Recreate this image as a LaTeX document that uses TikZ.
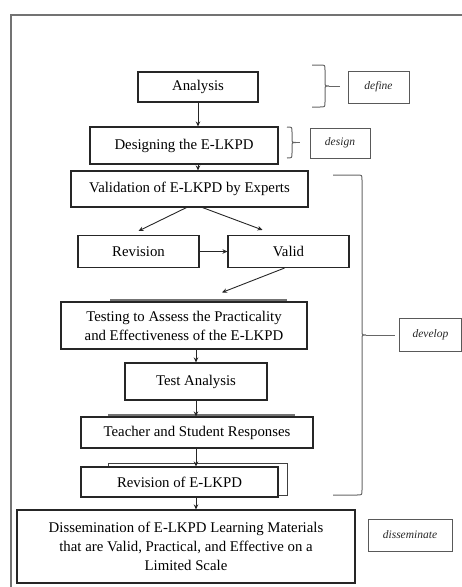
\documentclass[tikz,border=0pt]{standalone}
\usepackage{fontspec}
\setmainfont{Liberation Serif}
\usetikzlibrary{arrows.meta}
\newcommand\mybrace[6]{%
  \draw[brc] (#1,#3) -- ({#2-5},#3) .. controls (#2,#3) .. (#2,{#3+5}) -- (#2,{#4-4}) .. controls (#2,#4) .. ({#2+4},#4) .. controls (#2,#4) .. (#2,{#4+4}) -- (#2,{#5-5}) .. controls (#2,#5) .. ({#2-5},#5) -- (#1,#5);
  \draw[brc] ({#2+4},#4) -- (#6,#4);}
\begin{document}
\begin{tikzpicture}[x=1pt,y=-1pt,
  box/.style={draw=black!85,line width=1.1pt,fill=white,inner sep=0pt,align=center,font=\fontsize{14.8}{19}\selectfont},
  tag/.style={draw=black!65,line width=0.9pt,inner sep=0pt,font=\fontsize{11.5}{13}\selectfont\itshape,text=black!85},
  arr/.style={draw=black!85,line width=0.9pt,-{Stealth[length=5pt,width=4.5pt]}},
  brc/.style={draw=black!60,line width=1pt}]
\useasboundingbox (0,0) rectangle (462,587);
% outer frame
\draw[black!55,line width=1.6pt] (11,590) -- (11,15) -- (465,15);

% shadows
\fill[black!55] (110,298.5) rectangle (287,302);
\fill[black!55] (108,414) rectangle (295,417);
\draw[black!75,line width=1pt] (108,463) rectangle (287,495);

% main boxes
\node[box,minimum width=120pt,minimum height=30pt] (ana) at (198,87) {Analysis};
\node[box,minimum width=188pt,minimum height=37pt] (des) at (184,145.5) {Designing the E-LKPD};
\node[box,minimum width=237pt,minimum height=36pt] (val) at (189.5,189) {Validation of E-LKPD by Experts};
\node[box,minimum width=121pt,minimum height=32pt] (rev) at (138.5,251.5) {Revision};
\node[box,minimum width=121pt,minimum height=32pt] (vld) at (288.5,251.5) {Valid};
\node[box,minimum width=246pt,minimum height=47pt] (tst) at (184,325.5) {Testing to Assess the Practicality\\and Effectiveness of the E-LKPD};
\node[box,minimum width=142pt,minimum height=37pt] (tan) at (196,381.5) {Test Analysis};
\node[box,minimum width=232pt,minimum height=31pt] (tsr) at (197,432.5) {Teacher and Student Responses};
\node[box,minimum width=197pt,minimum height=30pt] (rel) at (179.5,482) {Revision of E-LKPD};
\node[box,minimum width=338pt,minimum height=73pt] (dis) at (186,546.5) {Dissemination of E-LKPD Learning Materials\\that are Valid, Practical, and Effective on a\\Limited Scale};

% stage labels
\node[tag,minimum width=61pt,minimum height=32pt] (tdef) at (378.5,87) {define};
\node[tag,minimum width=60pt,minimum height=30pt] (tdes) at (340,143) {design};
\node[tag,minimum width=62pt,minimum height=33pt] (tdev) at (430.5,334.5) {develop};
\node[tag,minimum width=84pt,minimum height=32pt] (tdis) at (410,535) {disseminate};

% braces
\mybrace{312}{325}{65}{86}{107}{340}
\mybrace{287}{292}{127}{142.5}{158}{300}
\mybrace{333}{362}{175}{335}{495}{395}

% connectors
\draw[arr] (ana.south) -- (ana.south |- des.north);
\draw[arr] (ana.south |- des.south) -- (ana.south |- val.north);
\draw[arr] ([xshift=-3pt]val.south) -- ([yshift=4pt]rev.north);
\draw[arr] ([xshift=13pt]val.south) -- ([xshift=-26pt,yshift=5pt]vld.north);
\draw[arr] (rev.east) -- (vld.west);
\draw[arr] ([xshift=-4pt]vld.south) -- ([xshift=38pt,yshift=9pt]tst.north);
\draw[arr] (tan.north |- tst.south) -- (tan.north);
\draw[arr] (tan.south) -- (tan.south |- tsr.north);
\draw[arr] (tan.south |- tsr.south) -- (tan.south |- rel.north);
\draw[arr] (tan.south |- rel.south) -- (tan.south |- dis.north);
\end{tikzpicture}
\end{document}
